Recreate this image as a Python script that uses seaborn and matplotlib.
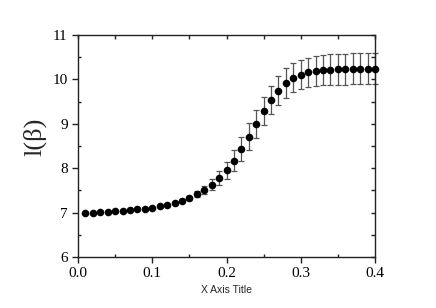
import numpy as np
import pandas as pd
import matplotlib
matplotlib.use("Agg")
import matplotlib.pyplot as plt
import seaborn as sns
from matplotlib.ticker import MultipleLocator, FormatStrFormatter

x_vals = [0.01, 0.02, 0.03, 0.04, 0.05, 0.06, 0.07, 0.08, 0.09, 0.10,
          0.11, 0.12, 0.13, 0.14, 0.15, 0.16, 0.17, 0.18, 0.19, 0.20,
          0.21, 0.22, 0.23, 0.24, 0.25, 0.26, 0.27, 0.28, 0.29, 0.30,
          0.31, 0.32, 0.33, 0.34, 0.35, 0.36, 0.37, 0.38, 0.39, 0.40]
y_vals = [7.00, 7.00, 7.01, 7.02, 7.03, 7.04, 7.05, 7.07, 7.09, 7.11,
          7.14, 7.17, 7.21, 7.27, 7.33, 7.42, 7.51, 7.63, 7.78, 7.95,
          8.17, 8.43, 8.71, 9.00, 9.29, 9.54, 9.75, 9.92, 10.04, 10.11,
          10.16, 10.19, 10.21, 10.22, 10.23, 10.235, 10.24, 10.24, 10.24, 10.24]
y_err = [0, 0, 0, 0, 0, 0, 0, 0, 0, 0,
         0, 0, 0, 0.03, 0.05, 0.07, 0.09, 0.12, 0.15, 0.19,
         0.23, 0.27, 0.30, 0.31, 0.31, 0.32, 0.33, 0.33, 0.33, 0.33,
         0.33, 0.34, 0.34, 0.35, 0.35, 0.35, 0.35, 0.35, 0.35, 0.35]

df = pd.DataFrame({"x": x_vals, "y": y_vals, "err": y_err})

sns.set_style("ticks")
fig = plt.figure(figsize=(4.36, 3.08), dpi=100)
ax = fig.add_axes([0.179, 0.166, 0.681, 0.720])

eb = df[df["err"] > 0]
ax.errorbar(eb["x"], eb["y"], yerr=eb["err"], fmt="none", ecolor="#555555",
            elinewidth=0.9, capsize=2.2, capthick=0.9, zorder=2, clip_on=False)
sns.scatterplot(data=df, x="x", y="y", ax=ax, color="black", s=30,
                edgecolor="black", linewidth=0, zorder=3, clip_on=False)

ax.set_xlim(0, 0.4)
ax.set_ylim(6, 11)
ax.xaxis.set_major_locator(MultipleLocator(0.1))
ax.xaxis.set_minor_locator(MultipleLocator(0.05))
ax.yaxis.set_major_locator(MultipleLocator(1))
ax.yaxis.set_minor_locator(MultipleLocator(0.5))
ax.xaxis.set_major_formatter(FormatStrFormatter("%.1f"))
ax.yaxis.set_major_formatter(FormatStrFormatter("%d"))

for s in ax.spines.values():
    s.set_color("#222222")
    s.set_linewidth(1.0)

ax.tick_params(axis="both", which="major", direction="out", length=4, width=1,
               colors="#222222", labelcolor="black", labelsize=11,
               top=False, right=False)
ax.tick_params(axis="both", which="minor", direction="in", length=2.5, width=1,
               colors="#222222", top=False, right=False)
for lab in ax.get_xticklabels() + ax.get_yticklabels():
    lab.set_family("Liberation Serif")

# top/right ticks pointing inward
axt = ax.twiny()
axt.set_xlim(0, 0.4)
axt.xaxis.set_major_locator(MultipleLocator(0.05))
axt.tick_params(axis="x", direction="in", length=3, width=1, colors="#222222",
                labeltop=False, top=True, bottom=False)
axr = ax.twinx()
axr.set_ylim(6, 11)
axr.yaxis.set_major_locator(MultipleLocator(0.5))
axr.tick_params(axis="y", direction="in", length=3, width=1, colors="#222222",
                labelright=False, right=True, left=False)
for a in (axt, axr):
    for s in a.spines.values():
        s.set_visible(False)

ax.set_xlabel("X Axis Title", family="Liberation Sans", fontsize=7.5)
ax.set_ylabel("l(β)", family="Liberation Serif", fontsize=19)
ax.xaxis.set_label_coords(0.5, -0.128)
ax.yaxis.set_label_coords(-0.105, 0.54)

fig.savefig("out.png", dpi=100)
